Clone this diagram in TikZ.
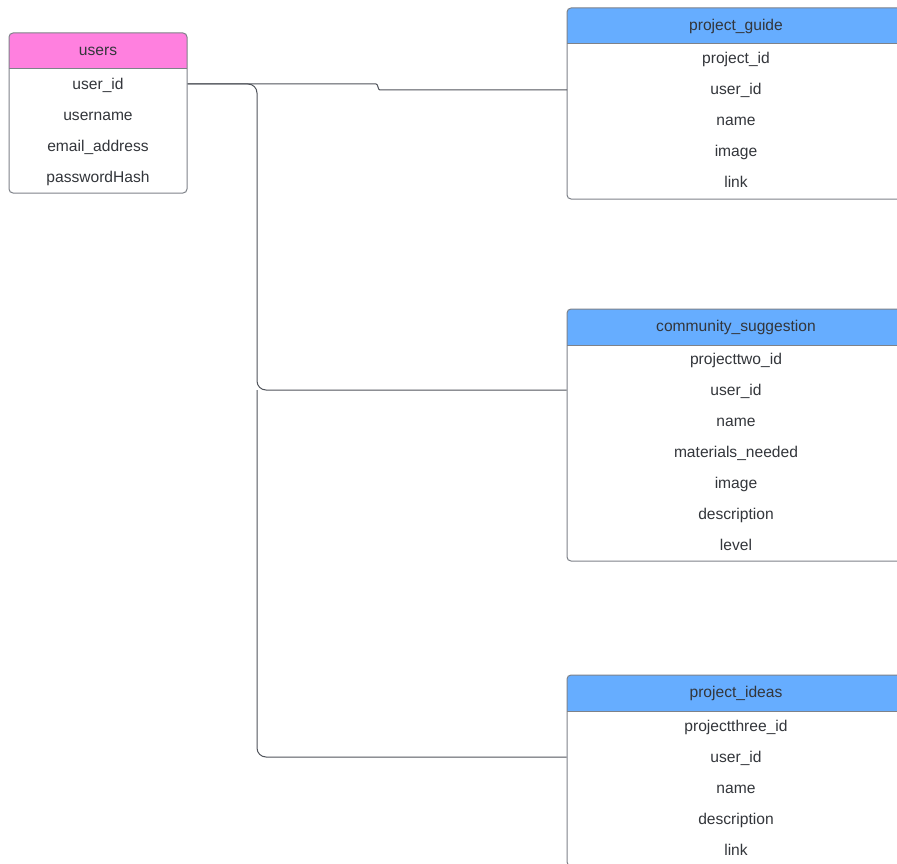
\documentclass[tikz,border=0pt]{standalone}
\usepackage{fontspec}
\setmainfont{Liberation Sans}
\definecolor{hpink}{HTML}{FF80DF}
\definecolor{hblue}{HTML}{66ADFF}
\definecolor{tborder}{HTML}{7E8289}
\definecolor{cline}{HTML}{50545B}
\definecolor{txt}{HTML}{33363B}
\begin{document}
\begin{tikzpicture}[x=1pt,y=-1pt,
  tbl/.style={draw=tborder,line width=1pt,rounded corners=4pt,inner sep=0pt},
  fld/.style={font=\fontsize{15.6}{18}\selectfont,text=txt,inner sep=0pt,text height=11pt,text depth=0pt,anchor=center},
  sep/.style={draw=tborder,line width=1pt},
  conn/.style={draw=cline,line width=1pt}]
\useasboundingbox (0,0) rectangle (897,864);
\clip (0,0) rectangle (897,864);
\fill[white] (0,0) rectangle (897,864);
% header fills
\fill[hpink] (9,69) [rounded corners=4pt] -- (9,33) -- (187,33) [sharp corners] -- (187,69) -- cycle;
\fill[hblue] (567,44) [rounded corners=4pt] -- (567,8) -- (905,8) [sharp corners] -- (905,44) -- cycle;
\fill[hblue] (567,345) [rounded corners=4pt] -- (567,309) -- (905,309) [sharp corners] -- (905,345) -- cycle;
\fill[hblue] (567,711) [rounded corners=4pt] -- (567,675) -- (905,675) [sharp corners] -- (905,711) -- cycle;
% table frames
\node[tbl,minimum width=178pt,minimum height=160pt] (users) at (98,113) {};
\node[tbl,minimum width=338pt,minimum height=191pt] (pg) at (736,103.5) {};
\node[tbl,minimum width=338pt,minimum height=252pt] (cs) at (736,435) {};
\node[tbl,minimum width=338pt,minimum height=191pt] (pi) at (736,770.5) {};
\draw[sep] (9,69) -- (187,69);
\draw[sep] (567,44) -- (905,44);
\draw[sep] (567,345) -- (905,345);
\draw[sep] (567,711) -- (905,711);
% users
\node[fld] (u-h) at (98,50) {users};
\node[fld] (u-uid) at (98,84) {user\_id};
\node[fld] (u-un) at (98,115) {username};
\node[fld] (u-em) at (98,146) {email\_address};
\node[fld] (u-pw) at (98,177) {passwordHash};
% project_guide
\node[fld] (pg-h) at (736,25) {project\_guide};
\node[fld] (pg-pid) at (736,58) {project\_id};
\node[fld] (pg-uid) at (736,89) {user\_id};
\node[fld] (pg-nm) at (736,120) {name};
\node[fld] (pg-im) at (736,151) {image};
\node[fld] (pg-ln) at (736,182) {link};
% community_suggestion
\node[fld] (cs-h) at (736,326) {community\_suggestion};
\node[fld] (cs-pid) at (736,359) {projecttwo\_id};
\node[fld] (cs-uid) at (736,390) {user\_id};
\node[fld] (cs-nm) at (736,421) {name};
\node[fld] (cs-mn) at (736,452) {materials\_needed};
\node[fld] (cs-im) at (736,483) {image};
\node[fld] (cs-de) at (736,514) {description};
\node[fld] (cs-lv) at (736,545) {level};
% project_ideas
\node[fld] (pi-h) at (736,692) {project\_ideas};
\node[fld] (pi-pid) at (736,726) {projectthree\_id};
\node[fld] (pi-uid) at (736,757) {user\_id};
\node[fld] (pi-nm) at (736,788) {name};
\node[fld] (pi-de) at (736,819) {description};
\node[fld] (pi-ln) at (736,850) {link};
% connectors
\coordinate (jog1) at (376,84);
\coordinate (jog2) at (380,90);
\coordinate (pgend) at (567,90);
\draw[conn] (users.east |- u-uid) -- (jog1) .. controls (378.5,84) and (377.5,90) .. (jog2) -- (pgend);
\coordinate (bend1) at (257,84);
\coordinate (bend2) at (257,390);
\coordinate (bend3) at (257,757);
\draw[conn,rounded corners=9pt] (users.east |- u-uid) -- (bend1) -- (bend2) -- (cs.west |- cs-uid);
\draw[conn,rounded corners=9pt] (bend2) -- (bend3) -- (pi.west |- pi-uid);
\end{tikzpicture}
\end{document}
